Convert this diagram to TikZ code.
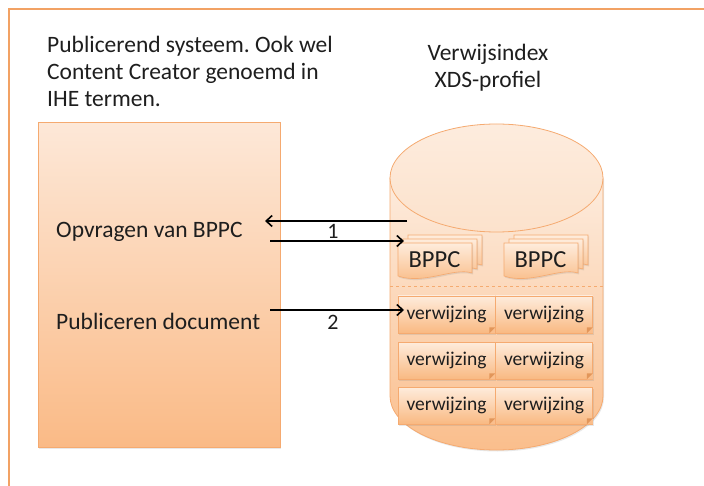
\documentclass[tikz,border=0pt]{standalone}
\usepackage{fontspec}
\setmainfont{Carlito}
\usetikzlibrary{arrows.meta,shadows}
\frenchspacing

\definecolor{frameor}{RGB}{242,162,100}
\definecolor{edgeor}{RGB}{245,170,112}
\definecolor{boxtop}{RGB}{253,232,216}
\definecolor{boxbot}{RGB}{250,186,134}
\definecolor{cyltop}{RGB}{253,236,222}
\definecolor{cylbot}{RGB}{250,190,140}
\definecolor{pagetop}{RGB}{254,236,220}
\definecolor{pagebot}{RGB}{249,185,130}
\definecolor{foldcol}{RGB}{226,150,90}
\definecolor{inktext}{RGB}{30,30,30}

\tikzset{
  softshadow/.style={drop shadow={opacity=0.18, shadow xshift=1pt, shadow yshift=-1.5pt}},
  sysbox/.style={draw=edgeor, line width=0.8pt, top color=boxtop, bottom color=boxbot,
    softshadow, minimum width=242pt, minimum height=325pt, anchor=north west, inner sep=0pt},
  bigtext/.style={font=\fontsize{23.5}{27}\selectfont, text=inktext, inner sep=0pt},
  pagefill/.style={draw=edgeor, line width=0.6pt, top color=pagetop, bottom color=pagebot, softshadow},
  refbox/.style={draw=edgeor, line width=0.6pt, top color=pagetop, bottom color=pagebot,
    minimum width=97pt, minimum height=37pt, inner sep=0pt, softshadow,
    font=\fontsize{19.5}{21}\selectfont, text=inktext},
  bppctext/.style={font=\fontsize{24.5}{26}\selectfont, text=inktext, inner sep=0pt},
  flow/.style={draw=black, line width=1.6pt, -{Straight Barb[length=6pt,width=11pt,line width=1.6pt]}},
  numlabel/.style={font=\fontsize{22}{24}\selectfont, text=inktext, inner sep=0pt},
  pics/docstack/.style={code={
    \foreach \d in {2,1,0}{
      \begin{scope}[shift={(5*\d,-4*\d)}]
        \shade[pagefill] (0,0) -- (74,0) -- (74,30)
          .. controls (56,24) and (26,42) .. (0,33) -- cycle;
      \end{scope}
    }
    \node[bppctext] (-t) at (36.5,17) {BPPC};
  }}
}

\begin{document}
\begin{tikzpicture}[x=1pt,y=-1pt]
\useasboundingbox (0,0) rectangle (704,486);
\fill[white] (0,0) rectangle (704,486);
\begin{scope}
\clip (0,0) rectangle (704,486);
% outer frame, running off the right and bottom edges
\draw[frameor, line width=2.2pt] (9,9) rectangle (740,520);

% captions (anchored on the baseline of their last line)
\node[bigtext, anchor=base west, align=left] (title) at (47,107)
  {Publicerend systeem. Ook wel\\Content Creator genoemd in\\IHE termen.};
\node[bigtext, anchor=base, align=center] (idxtitle) at (488,88)
  {Verwijsindex\\XDS-profiel};

% publishing system
\node[sysbox] (sys) at (38,122) {};
\node[bigtext, anchor=base west] (opv) at (56,238) {Opvragen van BPPC};
\node[bigtext, anchor=base west] (pub) at (56,330) {Publiceren document};

% index repository drawn as a cylinder
\shade[draw=edgeor, line width=0.8pt, top color=cyltop, bottom color=cylbot, softshadow]
  (390,178) -- (390,396) arc[start angle=180, end angle=360, x radius=106.5pt, y radius=54pt]
  -- (603,178) -- cycle;
\shade[draw=edgeor, line width=0.8pt, top color=cyltop, bottom color={rgb,255:red,252;green,226;blue,204}]
  (496.5,178) ellipse[x radius=106.5pt, y radius=54pt];
\draw[edgeor, line width=0.8pt, dashed] (390,286) -- (603,286);

% BPPC document stacks
\pic (bppcA) at (398,243) {docstack};
\pic (bppcB) at (504,243) {docstack};

% reference entries
\foreach \r/\yy in {1/314.5,2/360.5,3/405.5}{
  \foreach \c/\xx in {1/446.5,2/544}{
    \node[refbox] (ref\r\c) at (\xx,\yy) {verwijzing};
    \fill[cylbot] ([xshift=-6pt]ref\r\c.south east) -- (ref\r\c.south east) -- ([yshift=6pt]ref\r\c.south east) -- cycle;
    \fill[foldcol] ([xshift=-6pt]ref\r\c.south east) -- ([yshift=6pt]ref\r\c.south east) -- ([xshift=-6pt,yshift=6pt]ref\r\c.south east) -- cycle;
  }
}

% message flows
\coordinate (reqStart) at (407,221);
\coordinate (reqEnd) at (265,221);
\coordinate (ansStart) at (270,241);
\coordinate (ansEnd) at (404,241);
\coordinate (pubStart) at (270,310);
\coordinate (pubEnd) at (404,310);
\draw[flow] (reqStart) -- (reqEnd);
\draw[flow] (ansStart) -- (ansEnd);
\draw[flow] (pubStart) -- (pubEnd);
\node[numlabel] (lab1) at (333,231) {1};
\node[numlabel] (lab2) at (333,322) {2};
\end{scope}
\end{tikzpicture}
\end{document}
